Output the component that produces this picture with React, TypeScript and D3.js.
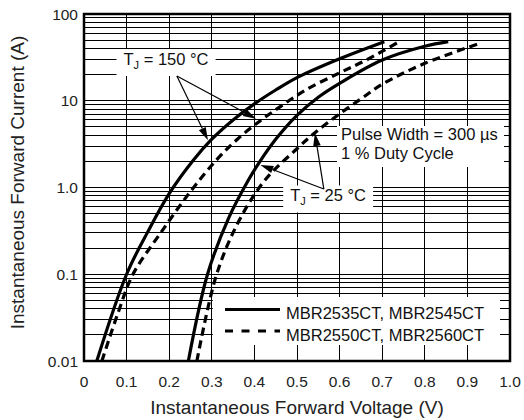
import { useEffect, useRef } from "react";
import * as d3 from "d3";

// Forward characteristics (volts, amps)
const voltSolid150 = [0.03, 0.1, 0.15, 0.2, 0.257, 0.3, 0.35, 0.4, 0.45, 0.5, 0.6, 0.705];
const ampSolid150 = [0.01, 0.1, 0.31, 0.85, 2.07, 3.6, 6.0, 9.2, 13.3, 18.5, 30.5, 48];

const voltDash150 = [0.042, 0.08, 0.115, 0.18, 0.25, 0.31, 0.36, 0.41, 0.46, 0.52, 0.6, 0.663, 0.735];
const ampDash150 = [0.01, 0.036, 0.1, 0.3, 0.9, 2.05, 3.6, 5.7, 8.5, 13.3, 21, 29.5, 46.5];

const voltSolid25 = [0.245, 0.29, 0.34, 0.386, 0.41, 0.45, 0.5, 0.55, 0.6, 0.7, 0.8, 0.855];
const ampSolid25 = [0.01, 0.1, 0.45, 1.22, 1.9, 3.6, 6.8, 11, 15.9, 29.5, 42.5, 48];

const voltDash25 = [0.265, 0.31, 0.36, 0.425, 0.5, 0.54, 0.59, 0.65, 0.7, 0.8, 0.93];
const ampDash25 = [0.01, 0.095, 0.38, 1.22, 2.8, 4.2, 6.5, 10.5, 15.5, 27, 46];

const xTickValues = [0, 0.1, 0.2, 0.3, 0.4, 0.5, 0.6, 0.7, 0.8, 0.9, 1.0];
const xTickLabels = ["0", "0.1", "0.2", "0.3", "0.4", "0.5", "0.6", "0.7", "0.8", "0.9", "1.0"];
const yTickValues = [0.01, 0.1, 1, 10, 100];
const yTickLabels = ["0.01", "0.1", "1.0", "10", "100"];

const legendLabels = ["MBR2535CT, MBR2545CT", "MBR2550CT, MBR2560CT"];
const pulseLines = ["Pulse Width = 300 \u00b5s", "1 % Duty Cycle"];

const W = 524;
const H = 420;
const MARGIN = { top: 14, right: 14, bottom: 59, left: 84 };
const FONT = "'Liberation Sans', Arial, Helvetica, sans-serif";

export default function App() {
  const ref = useRef<SVGSVGElement>(null);

  useEffect(() => {
    document.body.style.margin = "0";
    const svg = d3.select(ref.current);
    svg.selectAll("*").remove();

    const x = d3.scaleLinear().domain([0, 1]).range([MARGIN.left, W - MARGIN.right]);
    const y = d3.scaleLog().domain([0.01, 100]).range([H - MARGIN.bottom, MARGIN.top]);

    // grid
    const grid = svg.append("g").attr("stroke", "#000").attr("stroke-width", 1).attr("shape-rendering", "crispEdges");
    x.ticks(10).forEach((v) => {
      grid.append("line").attr("x1", x(v)).attr("x2", x(v)).attr("y1", y(0.01)).attr("y2", y(100));
    });
    y.ticks().forEach((v) => {
      grid.append("line").attr("x1", x(0)).attr("x2", x(1)).attr("y1", y(v)).attr("y2", y(v));
    });

    // white boxes behind labels go here
    const boxes = svg.append("g").attr("fill", "#fff");

    // curves
    const line = d3
      .line<number[]>()
      .x((d) => x(d[0]))
      .y((d) => y(d[1]))
      .curve(d3.curveCatmullRom.alpha(0.5));

    const series = [
      { v: voltSolid150, a: ampSolid150, dash: null },
      { v: voltDash150, a: ampDash150, dash: "8,5" },
      { v: voltSolid25, a: ampSolid25, dash: null },
      { v: voltDash25, a: ampDash25, dash: "8,5" },
    ];
    series.forEach((s) => {
      svg
        .append("path")
        .attr("d", line(s.v.map((v, i) => [v, s.a[i]])))
        .attr("fill", "none")
        .attr("stroke", "#000")
        .attr("stroke-width", 3.2)
        .attr("stroke-dasharray", s.dash);
    });

    // frame
    svg
      .append("rect")
      .attr("x", x(0))
      .attr("y", y(100))
      .attr("width", x(1) - x(0))
      .attr("height", y(0.01) - y(100))
      .attr("fill", "none")
      .attr("stroke", "#000")
      .attr("stroke-width", 2.5);

    // tick labels
    xTickValues.forEach((v, i) => {
      svg
        .append("text")
        .text(xTickLabels[i])
        .attr("x", x(v))
        .attr("y", y(0.01) + 26)
        .attr("text-anchor", "middle")
        .attr("font-family", FONT)
        .attr("font-size", 15.5)
        .attr("fill", "#222");
    });
    yTickValues.forEach((v, i) => {
      svg
        .append("text")
        .text(yTickLabels[i])
        .attr("x", x(0) - 6)
        .attr("y", y(v))
        .attr("dy", "0.36em")
        .attr("text-anchor", "end")
        .attr("font-family", FONT)
        .attr("font-size", 15.5)
        .attr("fill", "#222");
    });

    // axis titles
    svg
      .append("text")
      .text("Instantaneous Forward Voltage (V)")
      .attr("x", (x(0) + x(1)) / 2)
      .attr("y", 414)
      .attr("text-anchor", "middle")
      .attr("font-family", FONT)
      .attr("font-size", 19)
      .attr("fill", "#222");
    svg
      .append("text")
      .text("Instantaneous Forward Current (A)")
      .attr("transform", `translate(24, ${(y(0.01) + y(100)) / 2 - 5}) rotate(-90)`)
      .attr("text-anchor", "middle")
      .attr("font-family", FONT)
      .attr("font-size", 19)
      .attr("fill", "#222");

    // arrows
    const arrow = (from: number[], to: number[]) => {
      const x1 = x(from[0]), y1 = y(from[1]);
      const x2 = x(to[0]), y2 = y(to[1]);
      const ang = Math.atan2(y2 - y1, x2 - x1);
      const len = 13, hw = 3.8;
      const bx = x2 - len * Math.cos(ang), by = y2 - len * Math.sin(ang);
      svg.append("line").attr("x1", x1).attr("y1", y1).attr("x2", bx).attr("y2", by).attr("stroke", "#000").attr("stroke-width", 1.2);
      const px = -Math.sin(ang) * hw, py = Math.cos(ang) * hw;
      svg
        .append("polygon")
        .attr("points", `${x2},${y2} ${bx + px},${by + py} ${bx - px},${by - py}`)
        .attr("fill", "#000");
    };

    // Tj labels with boxes
    const tjLabel = (temp: string, at: number[]) => {
      const t = svg
        .append("text")
        .attr("x", x(at[0]))
        .attr("y", y(at[1]))
        .attr("text-anchor", "middle")
        .attr("font-family", FONT)
        .attr("font-size", 16.5)
        .attr("fill", "#111");
      t.append("tspan").text("T");
      t.append("tspan").text("J").attr("font-size", 11).attr("dy", 4);
      t.append("tspan").text(` = ${temp}`).attr("dy", -4);
      const b = (t.node() as SVGTextElement).getBBox();
      boxes.append("rect").attr("x", b.x - 7).attr("y", b.y - 1).attr("width", b.width + 14).attr("height", b.height + 6);
    };

    tjLabel("150 \u00b0C", [0.1925, 25.8]);
    arrow([0.218, 19.3], [0.291, 3.5]);
    arrow([0.218, 19.3], [0.404, 6.2]);

    tjLabel("25 \u00b0C", [0.573, 0.69]);
    arrow([0.563, 0.96], [0.542, 4.25]);
    arrow([0.563, 0.96], [0.414, 1.82]);

    // pulse note
    const pulse = svg.append("g");
    pulseLines.forEach((s, i) => {
      pulse
        .append("text")
        .text(s)
        .attr("x", 341)
        .attr("y", 140 + i * 19)
        .attr("font-family", FONT)
        .attr("font-size", 16.5)
        .attr("fill", "#111");
    });
    const pb = (pulse.node() as SVGGElement).getBBox();
    boxes.append("rect").attr("x", pb.x - 4).attr("y", pb.y + 1).attr("width", 163 + 4).attr("height", 167 - pb.y - 1);

    // legend
    boxes.append("rect").attr("x", x(0.3) + 1).attr("y", 297).attr("width", 500 - x(0.3) - 1).attr("height", 48);
    legendLabels.forEach((s, i) => {
      const ly = 309.5 + i * 21.5;
      svg
        .append("line")
        .attr("x1", 225)
        .attr("x2", 280)
        .attr("y1", ly)
        .attr("y2", ly)
        .attr("stroke", "#000")
        .attr("stroke-width", 3.2)
        .attr("stroke-dasharray", i === 0 ? null : "8,8.5");
      svg
        .append("text")
        .text(s)
        .attr("x", 286)
        .attr("y", ly + 9.5)
        .attr("font-family", FONT)
        .attr("font-size", 16.5)
        .attr("fill", "#111");
    });
  }, []);

  return <svg ref={ref} width={W} height={H} style={{ display: "block", background: "#fff" }} />;
}
